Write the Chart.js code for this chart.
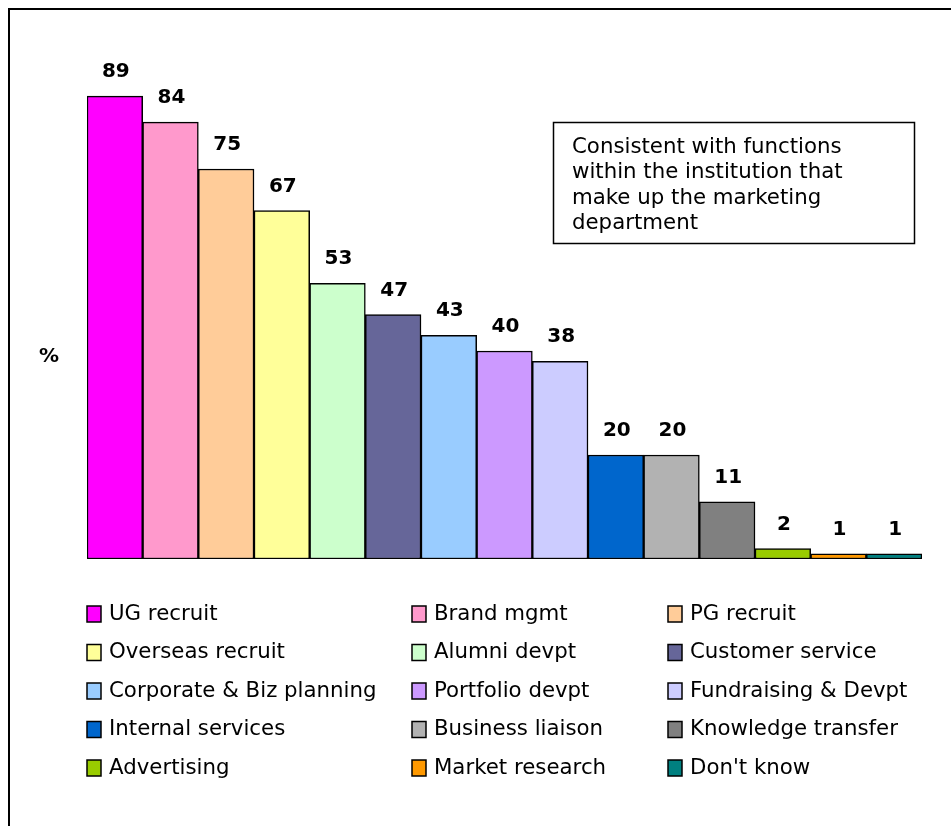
<!DOCTYPE html>
<html>
<head>
<meta charset="utf-8">
<script src="https://cdn.jsdelivr.net/npm/chart.js@4"></script>
<style>
  html, body { margin: 0; padding: 0; background: #fff; }
  #wrap { width: 951px; height: 826px; }
</style>
</head>
<body>
<div id="wrap"><canvas id="chart" width="951" height="826"></canvas></div>
<script>
// data
const categories = ["UG recruit", "Brand mgmt", "PG recruit", "Overseas recruit", "Alumni devpt",
    "Customer service", "Corporate & Biz planning", "Portfolio devpt", "Fundraising & Devpt",
    "Internal services", "Business liaison", "Knowledge transfer", "Advertising", "Market research", "Don't know"];
const percentages = [89, 84, 75, 67, 53, 47, 43, 40, 38, 20, 20, 11, 2, 1, 1];
const barColors = ["#ff00ff", "#ff99cc", "#ffcc99", "#ffff99", "#ccffcc", "#666699", "#99ccff", "#cc99ff",
    "#ccccff", "#0066cc", "#b2b2b2", "#808080", "#99cc00", "#ff9900", "#008080"];
const noteLines = ["Consistent with functions", "within the institution that", "make up the marketing", "department"];
const axisLabel = "%";

const FONT = '"DejaVu Sans", Verdana, sans-serif';

// frame, value labels, "%" label, note box and the 3-column legend
const decorations = {
    id: "decorations",
    afterDatasetsDraw(chart) {
        const ctx = chart.ctx;
        ctx.save();

        // outer frame (only top and left edges are inside the window)
        ctx.strokeStyle = "#000";
        ctx.lineWidth = 2;
        ctx.strokeRect(9, 9, 1200, 1200);

        // value labels above the bars
        const meta = chart.getDatasetMeta(0);
        ctx.fillStyle = "#000";
        ctx.font = "bold 20px " + FONT;
        ctx.textAlign = "center";
        ctx.textBaseline = "alphabetic";
        meta.data.forEach((bar, i) => {
            ctx.fillText(String(percentages[i]), bar.x + 1, bar.y - 19);
        });

        // axis label
        ctx.textBaseline = "middle";
        ctx.fillText(axisLabel, 49, 357);

        // note box
        ctx.lineWidth = 1.5;
        ctx.strokeRect(553.5, 122.5, 361, 121);
        ctx.font = "21.3px " + FONT;
        ctx.textAlign = "left";
        ctx.textBaseline = "middle";
        noteLines.forEach((line, i) => ctx.fillText(line, 572, 147 + i * 25.5));

        // legend grid, row-wise like the source
        const colX = [87, 412, 668];
        categories.forEach((name, i) => {
            const x = colX[i % 3];
            const y = 614 + Math.floor(i / 3) * 38.5;
            ctx.fillStyle = barColors[i];
            ctx.fillRect(x, y - 8, 14, 16);
            ctx.lineWidth = 1.5;
            ctx.strokeStyle = "#000";
            ctx.strokeRect(x, y - 8, 14, 16);
            ctx.fillStyle = "#000";
            ctx.fillText(name, x + 22, y);
        });

        ctx.restore();
    }
};

new Chart(document.getElementById("chart").getContext("2d"), {
    type: "bar",
    data: {
        labels: categories,
        datasets: [{
            label: "%",
            data: percentages,
            backgroundColor: barColors,
            borderColor: "#000",
            borderWidth: 1.5,
            borderSkipped: false,
            categoryPercentage: 1,
            barPercentage: 1
        }]
    },
    options: {
        responsive: false,
        animation: false,
        layout: { padding: { left: 87, right: 29, top: 39, bottom: 267 } },
        plugins: {
            legend: { display: false },
            tooltip: { enabled: false }
        },
        scales: {
            x: { display: false },
            y: { display: false, min: 0, max: 100 }
        }
    },
    plugins: [decorations]
});
</script>
</body>
</html>
